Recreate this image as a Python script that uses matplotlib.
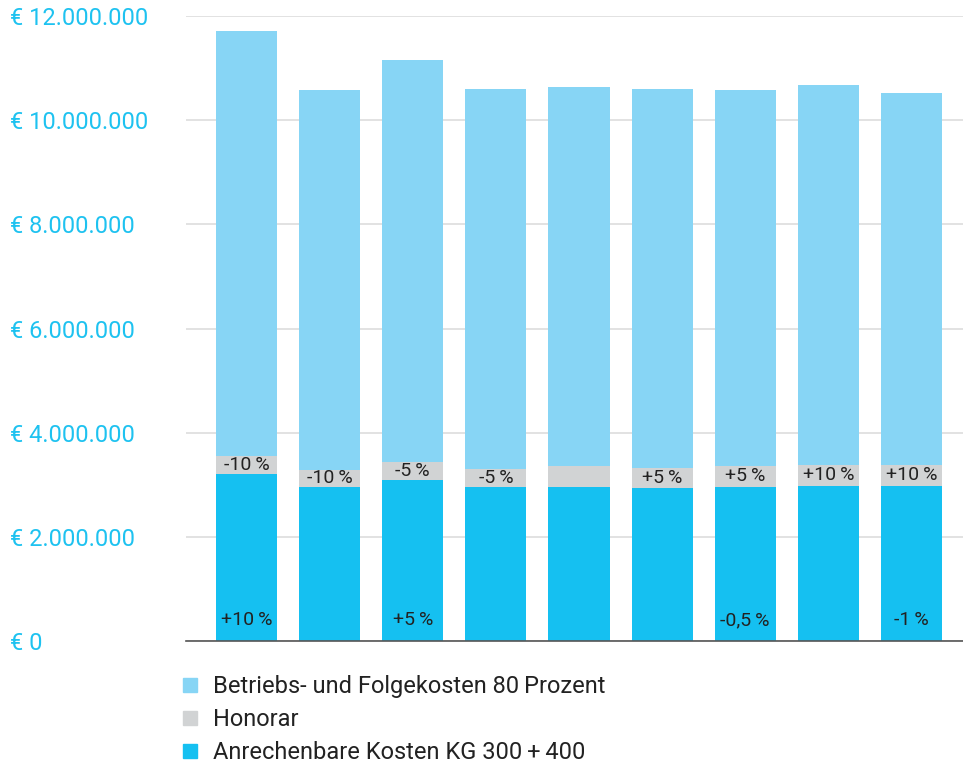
import matplotlib
matplotlib.use("Agg")
import matplotlib.pyplot as plt
from matplotlib.lines import Line2D
import numpy as np

plt.rcParams['font.family'] = ['Roboto', 'DejaVu Sans']

# values in euro
anrechenbar = [3.20e6, 2.96e6, 3.09e6, 2.96e6, 2.96e6, 2.94e6, 2.96e6, 2.98e6, 2.98e6]
honorar = [0.35e6, 0.32e6, 0.35e6, 0.34e6, 0.40e6, 0.39e6, 0.40e6, 0.40e6, 0.40e6]
betrieb = [8.16e6, 7.30e6, 7.71e6, 7.30e6, 7.27e6, 7.27e6, 7.22e6, 7.29e6, 7.14e6]

honorar_labels = ['-10\u2009%', '-10\u2009%', '-5\u2009%', '-5\u2009%', '', '+5\u2009%', '+5\u2009%', '+10\u2009%', '+10\u2009%']
base_labels = ['+10\u2009%', '', '+5\u2009%', '', '', '', '-0,5\u2009%', '', '-1\u2009%']

yticks = [0, 2e6, 4e6, 6e6, 8e6, 10e6, 12e6]
ytick_labels = ['€ 0', '€ 2.000.000', '€ 4.000.000', '€ 6.000.000', '€ 8.000.000', '€ 10.000.000', '€ 12.000.000']

c_light = '#87d5f5'
c_grey = '#d1d3d4'
c_blue = '#15c0f1'
c_tick = '#1ec2f0'

fig = plt.figure(figsize=(9.63, 7.67), dpi=100)
ax = fig.add_axes([0.193, 0.1643, 0.807, 0.8148])

x = np.arange(len(anrechenbar))
a = np.array(anrechenbar)
h = np.array(honorar)
b = np.array(betrieb)
w = 0.735
ax.bar(x, a, w, color=c_blue, zorder=2)
ax.bar(x, h, w, bottom=a, color=c_grey, zorder=2)
ax.bar(x, b, w, bottom=a + h, color=c_light, zorder=2)

for i in range(len(x)):
    if honorar_labels[i]:
        ax.text(x[i], a[i] + h[i] / 2, honorar_labels[i], ha='center', va='center',
                fontsize=14, color='#222222', zorder=3)
    if base_labels[i]:
        ax.text(x[i], 0.4e6, base_labels[i], ha='center', va='center',
                fontsize=14, color='#222222', zorder=3)

ax.set_xlim(-0.73, len(x) - 1 + 0.62)
ax.set_ylim(0, 12e6)
ax.set_yticks(yticks)
ax.set_yticklabels([])
ax.set_xticks([])
ax.tick_params(length=0)
ax.grid(axis='y', color='#dddddd', linewidth=1.2, zorder=0)
for s in ['top', 'right', 'left']:
    ax.spines[s].set_visible(False)
ax.spines['bottom'].set_color('#555555')
ax.spines['bottom'].set_linewidth(1.2)

trans = matplotlib.transforms.blended_transform_factory(fig.transFigure, ax.transData)
for v, lab in zip(yticks, ytick_labels):
    ax.text(10 / 963, v, lab, transform=trans, ha='left', va='center_baseline',
            fontsize=17, color=c_tick, clip_on=False)

handles = [Line2D([], [], marker='s', linestyle='', markersize=10.5, color=c) for c in (c_light, c_grey, c_blue)]
names = ['Betriebs- und Folgekosten 80\u2009Prozent', 'Honorar', 'Anrechenbare Kosten KG 300\u2009+\u2009400']
leg = fig.legend(handles, names, loc='upper left', bbox_to_anchor=(178 / 963, 1 - 675 / 767),
                 frameon=False, fontsize=17, handlelength=1.0, handletextpad=0.5,
                 labelspacing=0.43, borderaxespad=0, borderpad=0)
for t in leg.get_texts():
    t.set_color('#222222')

fig.savefig('out.png', dpi=100)
